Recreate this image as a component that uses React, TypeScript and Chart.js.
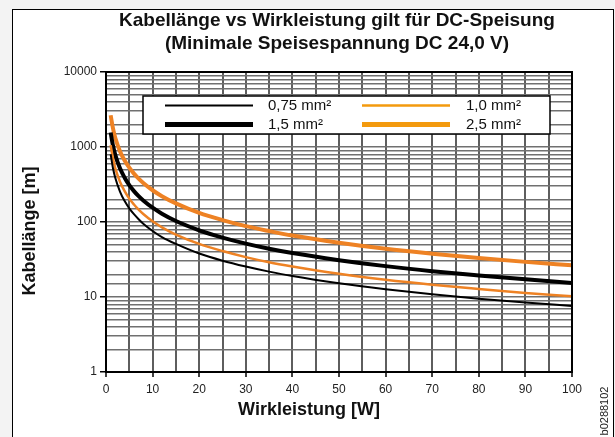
import React, { useEffect, useRef } from "react";
import { Chart, registerables } from "chart.js";

Chart.register(...registerables);

// ---- Text ----
const TITLE_LINES = [
  "Kabellänge vs Wirkleistung gilt für DC-Speisung",
  "(Minimale Speisespannung DC 24,0 V)",
];
const X_LABEL = "Wirkleistung [W]";
const Y_LABEL = "Kabellänge [m]";
const DOC_CODE = "b0288102";

// ---- Axes ----
const X_MIN = 0;
const X_MAX = 100;
const X_STEP = 5;
const X_LABEL_STEP = 10;
const Y_MIN = 1;
const Y_MAX = 10000;
const Y_TICK_LABELS = [1, 10, 100, 1000, 10000];

// ---- Data ----
const POWER_W = [1, 1.5, 2, 3, 4, 5, 6, 7, 8, 10, 12, 15, 20, 25, 30, 35, 40, 50, 60, 70, 80, 90, 100];
const LEN_075 = [800, 520, 385, 255, 190, 152, 127, 109, 95, 76, 63, 51, 38, 30.5, 25.5, 21.8, 19, 15.2, 12.7, 10.9, 9.5, 8.45, 7.6];
const LEN_10 = [1060, 700, 520, 345, 258, 205, 171, 146, 128, 102, 85, 68, 51, 41, 34, 29, 25.5, 20.4, 17, 14.6, 12.8, 11.3, 10.2];
const LEN_15 = [1560, 1040, 780, 520, 390, 310, 258, 221, 194, 155, 129, 103, 77.5, 62, 51.5, 44, 38.5, 31, 25.8, 22.1, 19.4, 17.2, 15.4];
const LEN_25 = [2650, 1770, 1320, 880, 660, 530, 441, 378, 331, 265, 221, 177, 132, 106, 88, 75.7, 66, 53, 44, 37.8, 33, 29.4, 26.5];

const SERIES_NAMES = ["0,75 mm²", "1,0 mm²", "1,5 mm²", "2,5 mm²"];
const SERIES_VALUES = [LEN_075, LEN_10, LEN_15, LEN_25];
const SERIES_COLORS = ["#000000", "#EE8224", "#000000", "#EE8224"];
const LEGEND_COLORS = ["#000000", "#F39A0E", "#000000", "#F39A0E"];
const SERIES_WIDTHS = [2, 2.5, 4, 4];

const W = 615;
const H = 437;

const isDecade = (v: number) => {
  const l = Math.log10(v);
  return Math.abs(l - Math.round(l)) < 1e-9;
};

const decorPlugin = {
  id: "decor",
  afterDatasetsDraw(chart: any) {
    const { ctx, chartArea } = chart;
    ctx.save();
    ctx.strokeStyle = "#000";
    ctx.lineWidth = 2;
    ctx.strokeRect(chartArea.left, chartArea.top, chartArea.right - chartArea.left, chartArea.bottom - chartArea.top);
    ctx.restore();
  },
  afterDraw(chart: any) {
    const { ctx } = chart;
    ctx.save();
    // Titles
    ctx.fillStyle = "#111";
    ctx.textAlign = "center";
    ctx.textBaseline = "middle";
    ctx.font = "bold 19px 'Liberation Sans', Arial, sans-serif";
    ctx.fillText(TITLE_LINES[0], 337, 21);
    ctx.fillText(TITLE_LINES[1], 337, 44);

    // X label
    ctx.font = "bold 18px 'Liberation Sans', Arial, sans-serif";
    ctx.fillText(X_LABEL, 309, 410);

    // Y label
    ctx.save();
    ctx.translate(30, 231);
    ctx.rotate(-Math.PI / 2);
    ctx.fillText(Y_LABEL, 0, 0);
    ctx.restore();

    // Document code
    ctx.save();
    ctx.translate(605, 411);
    ctx.rotate(-Math.PI / 2);
    ctx.font = "11px 'Liberation Sans', Arial, sans-serif";
    ctx.fillStyle = "#222";
    ctx.fillText(DOC_CODE, 0, 0);
    ctx.restore();

    // Legend
    const lx = 143, ly = 96, lw = 407, lh = 38;
    ctx.fillStyle = "#fff";
    ctx.fillRect(lx, ly, lw, lh);
    ctx.strokeStyle = "#000";
    ctx.lineWidth = 1.5;
    ctx.strokeRect(lx, ly, lw, lh);
    const rows = [105.5, 124.5];
    const cols = [
      { x1: 165, x2: 253, tx: 268 },
      { x1: 362, x2: 450, tx: 466 },
    ];
    const order = [
      [0, 0, 0],
      [1, 0, 1],
      [2, 1, 0],
      [3, 1, 1],
    ];
    ctx.font = "15px 'Liberation Sans', Arial, sans-serif";
    ctx.textAlign = "left";
    ctx.textBaseline = "middle";
    order.forEach(([si, r, c]) => {
      const y = rows[r];
      const col = cols[c];
      ctx.strokeStyle = LEGEND_COLORS[si];
      ctx.lineWidth = SERIES_WIDTHS[si] + (si >= 2 ? 1 : 0);
      ctx.beginPath();
      ctx.moveTo(col.x1, y);
      ctx.lineTo(col.x2, y);
      ctx.stroke();
      ctx.fillStyle = "#111";
      ctx.fillText(SERIES_NAMES[si], col.tx, y);
    });
    ctx.restore();
  },
};

export default function App() {
  const ref = useRef<HTMLCanvasElement | null>(null);

  useEffect(() => {
    if (!ref.current) return;
    const datasets = SERIES_VALUES.map((vals, i) => ({
      label: SERIES_NAMES[i],
      data: POWER_W.map((x, j) => ({ x, y: vals[j] })),
      borderColor: SERIES_COLORS[i],
      backgroundColor: SERIES_COLORS[i],
      borderWidth: SERIES_WIDTHS[i],
      pointRadius: 0,
      cubicInterpolationMode: "monotone" as const,
      fill: false,
    }));
    const chart = new Chart(ref.current, {
      type: "line",
      data: { datasets },
      options: {
        responsive: false,
        animation: false,
        devicePixelRatio: 1,
        layout: { padding: { left: 0, right: 43, top: 72, bottom: 35 } },
        plugins: {
          legend: { display: false },
          title: { display: false },
          tooltip: { enabled: false },
        },
        scales: {
          x: {
            type: "linear",
            min: X_MIN,
            max: X_MAX,
            afterFit: (s: any) => {
              s.height = 30;
            },
            border: { color: "#000", width: 2 },
            grid: {
              color: "#5e5e5e",
              lineWidth: 2,
              tickLength: 5,
              tickColor: (c: any) => (c.tick && c.tick.value % X_LABEL_STEP === 0 ? "#000" : "rgba(0,0,0,0)"),
              tickWidth: 1.5,
            },
            ticks: {
              stepSize: X_STEP,
              autoSkip: false,
              maxRotation: 0,
              padding: 5,
              color: "#222",
              font: { family: "'Liberation Sans Narrow', 'Liberation Sans', Arial, sans-serif", size: 12 },
              callback: (v: any) => (Number(v) % X_LABEL_STEP === 0 ? String(v) : ""),
            },
          },
          y: {
            type: "logarithmic",
            min: Y_MIN,
            max: Y_MAX,
            afterFit: (s: any) => {
              s.width = 106;
            },
            border: { color: "#000", width: 2 },
            grid: {
              color: "#707070",
              lineWidth: 1.5,
              tickLength: 6,
              tickColor: (c: any) => (c.tick && isDecade(c.tick.value) ? "#000" : "rgba(0,0,0,0)"),
              tickWidth: 1.5,
            },
            ticks: {
              autoSkip: false,
              padding: 3,
              color: "#222",
              font: { family: "'Liberation Sans Narrow', 'Liberation Sans', Arial, sans-serif", size: 12 },
              callback: (v: any) => {
                const n = Number(v);
                return Y_TICK_LABELS.some((t) => Math.abs(t - n) < 1e-6) ? String(Math.round(n)) : "";
              },
            },
          },
        },
      },
      plugins: [decorPlugin],
    });
    return () => chart.destroy();
  }, []);

  return (
    <div
      style={{
        position: "fixed",
        left: 0,
        top: 0,
        width: W,
        height: H,
        overflow: "hidden",
        background: "#f3f3f3",
      }}
    >
      <div
        style={{
          position: "absolute",
          left: 12,
          top: 9,
          width: 602,
          height: H,
          background: "#fff",
          border: "1px solid #000",
          boxSizing: "border-box",
        }}
      />
      <canvas ref={ref} width={W} height={H} style={{ position: "absolute", left: 0, top: 0, width: W, height: H }} />
    </div>
  );
}
